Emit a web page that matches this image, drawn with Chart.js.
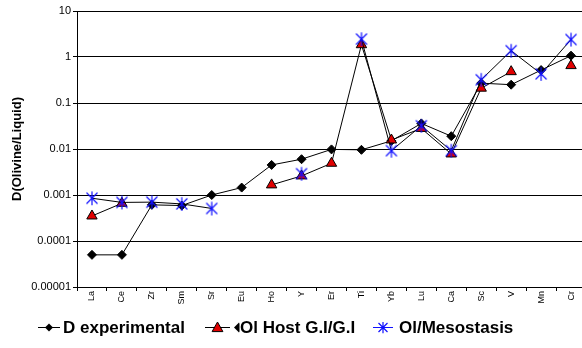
<!DOCTYPE html>
<html><head><meta charset="utf-8">
<script src="https://cdn.jsdelivr.net/npm/chart.js@4.4.0/dist/chart.umd.min.js"></script>
<style>html,body{margin:0;padding:0;background:#fff;overflow:hidden;}#wrap{width:596px;height:348px;}</style>
</head><body><div id="wrap"><canvas id="c" width="596" height="348"></canvas></div>
<script>
const categories = ['La','Ce','Zr','Sm','Sr','Eu','Ho','Y','Er','Ti','Yb','Lu','Ca','Sc','V','Mn','Cr'];
const dExperimental = [0.00005,0.00005,0.00061,0.00059,0.001,0.00145,0.0045,0.006,0.0098,0.0096,0.015,0.036,0.019,0.27,0.25,0.52,1.07];
const olHost = [0.00035,0.00066,null,null,null,null,0.00166,0.0026,0.0049,1.85,0.0157,0.028,0.0078,0.21,0.48,null,0.65];
const olMesostasis = [0.00085,0.00069,0.0007,0.00064,0.00051,null,null,0.0029,null,2.45,0.0092,0.032,0.0092,0.32,1.37,0.43,2.4];
const seriesNames = ['D experimental','Ol Host G.I/G.I','Ol/Mesostasis'];
const yTickValues = [0.00001,0.0001,0.001,0.01,0.1,1,10];
const yTickLabels = ['0.00001','0.0001','0.001','0.01','0.1','1','10'];
const yTitle = 'D(Olivine/Liquid)';

const FONT = "'Liberation Sans', Arial, sans-serif";
Chart.defaults.font.family = FONT;
Chart.defaults.color = '#000';

function mk(w,h){const c=document.createElement('canvas');c.width=w;c.height=h;return c;}
function diamond(ctx,x,y,r){ctx.beginPath();ctx.moveTo(x,y-r);ctx.lineTo(x+r,y);ctx.lineTo(x,y+r);ctx.lineTo(x-r,y);ctx.closePath();ctx.fillStyle='#000';ctx.fill();}
function triangle(ctx,x,y,r){ctx.beginPath();ctx.moveTo(x,y-r);ctx.lineTo(x+r*0.9,y+r*0.6);ctx.lineTo(x-r*0.9,y+r*0.6);ctx.closePath();ctx.fillStyle='#e00000';ctx.fill();ctx.strokeStyle='#000';ctx.lineWidth=1;ctx.stroke();}
function star(ctx,x,y,r,col){ctx.strokeStyle=col;ctx.lineWidth=1.2;ctx.beginPath();ctx.moveTo(x-r,y-r);ctx.lineTo(x+r,y+r);ctx.moveTo(x+r,y-r);ctx.lineTo(x-r,y+r);ctx.moveTo(x,y-r*1.25);ctx.lineTo(x,y+r*1.25);ctx.stroke();}
function hline(ctx,x0,x1,y,col){ctx.strokeStyle=col;ctx.lineWidth=1;ctx.beginPath();ctx.moveTo(x0,y+0.5);ctx.lineTo(x1,y+0.5);ctx.stroke();}

const starPoint = (()=>{const c=mk(16,18);star(c.getContext('2d'),8,9,5.5,'#1010ff');return c;})();

// legend layout (positions only)
const legendLayout = [
  {text:63,draw:(ctx,y)=>{hline(ctx,38,60,y,'#000');diamond(ctx,49,y+0.5,4);}},
  {text:240,draw:(ctx,y)=>{hline(ctx,205,230,y,'#000');triangle(ctx,217.5,y+1,6);
     ctx.save();ctx.beginPath();ctx.rect(220,y-10,19.5,20);ctx.clip();diamond(ctx,239,y+0.5,5);ctx.restore();}},
  {text:399,draw:(ctx,y)=>{hline(ctx,373,393,y,'#1010ff');star(ctx,383,y+0.5,4.5,'#1010ff');}}
];
const customLegend = {
  id:'customLegend',
  afterDraw(chart){
    const ctx=chart.ctx;const y=327;
    ctx.save();
    chart.data.datasets.forEach((ds,i)=>{
      const L=legendLayout[i];
      L.draw(ctx,y);
      ctx.font="bold 17px "+FONT;ctx.fillStyle='#000';ctx.textBaseline='middle';ctx.textAlign='left';
      ctx.fillText(ds.label,L.text,y+1);
    });
    ctx.restore();
  }
};

new Chart(document.getElementById('c'), {
  type:'line',
  data:{
    labels:categories,
    datasets:[
      {label:seriesNames[0],data:dExperimental,borderColor:'#000',borderWidth:1,pointStyle:'rectRot',pointRadius:4.5,pointBackgroundColor:'#000',pointBorderColor:'#000',pointBorderWidth:1,order:3,spanGaps:false,tension:0},
      {label:seriesNames[1],data:olHost,borderColor:'#000',borderWidth:1,pointStyle:'triangle',pointRadius:6,pointBackgroundColor:'#e00000',pointBorderColor:'#000',pointBorderWidth:1,order:2,spanGaps:false,tension:0},
      {label:seriesNames[2],data:olMesostasis,borderColor:'#000',borderWidth:1,pointStyle:starPoint,pointRadius:6,order:1,spanGaps:false,tension:0}
    ]
  },
  options:{
    responsive:false,animation:false,devicePixelRatio:1,
    layout:{padding:{left:0,right:10,top:11,bottom:0}},
    plugins:{tooltip:{enabled:false},legend:{display:false}},
    scales:{
      x:{type:'category',offset:true,
        grid:{offset:true,drawOnChartArea:false,color:'#000',tickLength:4},
        border:{color:'#000'},
        ticks:{autoSkip:false,minRotation:90,maxRotation:90,padding:0,color:'#000',font:{size:9}},
        afterFit(s){s.height=61;}},
      y:{type:'logarithmic',min:1e-5,max:10,
        grid:{color:'#000',tickLength:4},
        border:{color:'#000'},
        ticks:{color:'#000',font:{size:11},padding:2,callback:(v)=>{const i=yTickValues.indexOf(v);return i>=0?yTickLabels[i]:'';}},
        afterBuildTicks(s){s.ticks=yTickValues.map(v=>({value:v}));},
        afterFit(s){s.width=77;},
        title:{display:true,text:yTitle,color:'#000',font:{size:13,weight:'bold'},padding:{top:10,bottom:0}}}
    }
  },
  plugins:[customLegend]
});
</script></body></html>
